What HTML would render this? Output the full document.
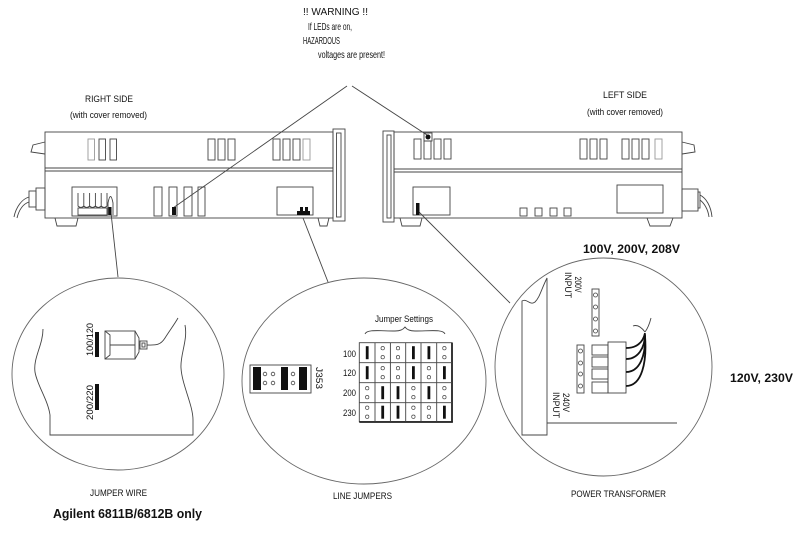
<!DOCTYPE html>
<html><head><meta charset="utf-8"><style>
html,body{margin:0;padding:0;background:#fff;}
svg{display:block;}
text{font-family:"Liberation Sans",Arial,sans-serif;fill:#111;}
</style></head><body>
<svg width="800" height="533" viewBox="0 0 800 533" xmlns="http://www.w3.org/2000/svg">
<rect width="800" height="533" fill="#fff"/>

<!-- WARNING TEXT -->
<g font-size="10.5">
<text x="303" y="15" textLength="65" lengthAdjust="spacingAndGlyphs">!! WARNING !!</text>
<text x="308" y="30" textLength="44" lengthAdjust="spacingAndGlyphs">If LEDs are on,</text>
<text x="303" y="44" textLength="37" lengthAdjust="spacingAndGlyphs">HAZARDOUS</text>
<text x="318" y="58" textLength="67" lengthAdjust="spacingAndGlyphs">voltages are present!</text>
</g>

<!-- side labels -->
<g font-size="9.5">
<text x="85" y="102" textLength="48" lengthAdjust="spacingAndGlyphs">RIGHT SIDE</text>
<text x="70" y="118" textLength="77" lengthAdjust="spacingAndGlyphs">(with cover removed)</text>
<text x="603" y="98" textLength="44" lengthAdjust="spacingAndGlyphs">LEFT SIDE</text>
<text x="587" y="115" textLength="76" lengthAdjust="spacingAndGlyphs">(with cover removed)</text>
</g>

<g fill="none" stroke="#444" stroke-width="0.9">
<!-- warning lines -->
<line x1="347" y1="86" x2="173" y2="208"/>
<line x1="352" y1="86" x2="427" y2="135"/>

<!-- ===== Chassis A (right side) ===== -->
<rect x="45" y="132" width="288" height="86"/>
<line x1="45" y1="168" x2="333" y2="168"/>
<line x1="45" y1="171" x2="333" y2="171"/>
<rect x="333" y="129" width="12" height="92"/>
<rect x="336.5" y="133" width="4.5" height="84"/>
<path d="M45,142 L33,145 L31,152 L45,154"/>
<rect x="36" y="188" width="9" height="22"/>
<rect x="29" y="191" width="7" height="16"/>
<path d="M29,197 C22,199 16,207 14,217"/>
<path d="M29,202 C23,204 19,210 17,218"/>
<path d="M55,218 L57,226 L76,226 L78,218"/>
<path d="M318,218 L320,226 L327,226 L329,218"/>
<!-- top slots -->
<rect x="88" y="139" width="6.5" height="21" stroke="#999"/>
<rect x="99" y="139" width="6.5" height="21"/>
<rect x="110" y="139" width="6.5" height="21"/>
<rect x="208" y="139" width="7" height="21"/>
<rect x="218" y="139" width="7" height="21"/>
<rect x="228" y="139" width="7" height="21"/>
<rect x="273" y="139" width="7" height="21"/>
<rect x="283" y="139" width="7" height="21"/>
<rect x="293" y="139" width="7" height="21"/>
<rect x="303" y="139" width="7" height="21" stroke="#999"/>
<!-- lower -->
<rect x="72" y="187" width="45" height="29"/>
<path d="M78,193 V206 Q80.9,209 83.8,206 V193 M83.8,206 Q86.7,209 89.6,206 V193 M89.6,206 Q92.5,209 95.4,206 V193 M95.4,206 Q98.3,209 101.2,206 V193 M101.2,206 Q104.1,209 107,206 V193"/>
<rect x="78" y="208" width="29" height="7"/>
<path d="M108,215 V203 Q110.5,190 113,203 V215"/>
<rect x="154" y="187" width="8" height="29"/>
<rect x="169" y="187" width="8" height="29"/>
<rect x="184" y="187" width="8" height="29"/>
<rect x="198" y="187" width="7" height="29"/>
<rect x="277" y="187" width="36" height="28"/>

<!-- ===== Chassis B (left side) ===== -->
<rect x="394" y="132" width="288" height="86"/>
<line x1="394" y1="169" x2="682" y2="169"/>
<line x1="394" y1="172" x2="682" y2="172"/>
<rect x="383" y="131" width="11" height="91"/>
<rect x="387" y="135" width="4" height="83"/>
<rect x="424" y="133" width="8" height="8"/>
<rect x="414" y="139" width="7" height="20"/>
<rect x="424" y="141" width="7" height="18"/>
<rect x="434" y="139" width="7" height="20"/>
<rect x="444" y="139" width="7" height="20"/>
<rect x="580" y="139" width="7" height="20"/>
<rect x="590" y="139" width="7" height="20"/>
<rect x="600" y="139" width="7" height="20"/>
<rect x="622" y="139" width="7" height="20"/>
<rect x="632" y="139" width="7" height="20"/>
<rect x="642" y="139" width="7" height="20"/>
<rect x="655" y="139" width="7" height="20" stroke="#999"/>
<rect x="413" y="187" width="37" height="28"/>
<rect x="520" y="208" width="7" height="8"/>
<rect x="535" y="208" width="7" height="8"/>
<rect x="550" y="208" width="7" height="8"/>
<rect x="564" y="208" width="7" height="8"/>
<rect x="617" y="185" width="46" height="28"/>
<path d="M682,142 L694,145 L695,152 L682,154"/>
<rect x="682" y="189" width="16" height="22"/>
<rect x="698" y="192" width="2" height="16"/>
<path d="M700,195 C706,198 711,206 712,217"/>
<path d="M700,200 C704,203 708,209 709,217"/>
<path d="M400,218 L402,226 L420,226 L422,218"/>
<path d="M647,218 L650,226 L670,226 L673,218"/>

<!-- connector lines to circles -->
<line x1="111" y1="213" x2="118" y2="277"/>
<line x1="303" y1="218" x2="328" y2="282"/>
<line x1="419" y1="212" x2="510" y2="303"/>

<!-- ===== circles ===== -->
<ellipse cx="118" cy="374" rx="106" ry="96" stroke="#666"/>
<ellipse cx="364" cy="381" rx="122" ry="103" stroke="#666"/>
<ellipse cx="603.5" cy="367" rx="108.5" ry="109" stroke="#666"/>

<!-- circle 1 contents -->
<path d="M43,329 C43,345 33,358 35,372 C37,385 48,400 50,415 L50,435 H193 L193,420 C193,405 182,385 181,368 C180,355 188,340 185,325"/>
<rect x="105" y="331" width="30" height="28"/>
<path d="M105,331 L110,335 V355 L105,359 M110,345 H135"/>
<path d="M135,331 L139,338 V352 L135,359"/>
<rect x="140" y="341" width="7" height="8"/>
<rect x="142" y="343" width="3" height="4"/>
<line x1="139" y1="345" x2="140" y2="345"/>
<path d="M147,345 C155,345 160,346 165,338 C170,330 174,325 178,318"/>

<!-- circle 2 contents -->
<rect x="250" y="365" width="61" height="28"/>
<g stroke-width="0.8">
<circle cx="265" cy="374" r="1.8"/><circle cx="265" cy="383" r="1.8"/>
<circle cx="273" cy="374" r="1.8"/><circle cx="273" cy="383" r="1.8"/>
<circle cx="293" cy="374" r="1.8"/><circle cx="293" cy="383" r="1.8"/>
</g>
<path d="M365,334 C367,329 380,331 395,331 C400,331 403,330 405,327 C407,330 410,331 415,331 C430,331 443,329 445,334"/>
<!-- table -->
<rect x="359.3" y="342.7" width="92.7" height="79"/>
<line x1="452" y1="342.7" x2="452" y2="422.5" stroke="#222" stroke-width="1.8"/>
<line x1="359.3" y1="422" x2="452.8" y2="422" stroke="#222" stroke-width="1.8"/>
<path d="M375,342.7 V421.7 M390.4,342.7 V421.7 M405.7,342.7 V421.7 M421,342.7 V421.7 M436.7,342.7 V421.7 M359.3,362.7 H452 M359.3,382.7 H452 M359.3,402.7 H452"/>
<g stroke-width="0.7">
<!-- row 0 -->
<circle cx="382.7" cy="348.2" r="1.7"/><circle cx="382.7" cy="357.2" r="1.7"/>
<circle cx="398" cy="348.2" r="1.7"/><circle cx="398" cy="357.2" r="1.7"/>
<circle cx="444.4" cy="348.2" r="1.7"/><circle cx="444.4" cy="357.2" r="1.7"/>
<!-- row 1 -->
<circle cx="382.7" cy="368.2" r="1.7"/><circle cx="382.7" cy="377.2" r="1.7"/>
<circle cx="398" cy="368.2" r="1.7"/><circle cx="398" cy="377.2" r="1.7"/>
<circle cx="428.9" cy="368.2" r="1.7"/><circle cx="428.9" cy="377.2" r="1.7"/>
<!-- row 2 -->
<circle cx="367.2" cy="388.2" r="1.7"/><circle cx="367.2" cy="397.2" r="1.7"/>
<circle cx="413.4" cy="388.2" r="1.7"/><circle cx="413.4" cy="397.2" r="1.7"/>
<circle cx="444.4" cy="388.2" r="1.7"/><circle cx="444.4" cy="397.2" r="1.7"/>
<!-- row 3 -->
<circle cx="367.2" cy="407.7" r="1.7"/><circle cx="367.2" cy="416.7" r="1.7"/>
<circle cx="413.4" cy="407.7" r="1.7"/><circle cx="413.4" cy="416.7" r="1.7"/>
<circle cx="428.9" cy="407.7" r="1.7"/><circle cx="428.9" cy="416.7" r="1.7"/>
</g>

<!-- circle 3 contents -->
<path d="M522,435 V301 C527,298 530,306 535,302 C540,297 541,290 547,278 V435 Z"/>
<line x1="547" y1="423" x2="677" y2="423"/>
<rect x="592" y="289" width="7" height="47"/>
<rect x="577" y="345" width="7" height="48"/>
<g stroke-width="0.8">
<circle cx="595.5" cy="295" r="2"/><circle cx="595.5" cy="307" r="2"/><circle cx="595.5" cy="319" r="2"/><circle cx="595.5" cy="331" r="2"/>
<circle cx="580.5" cy="351" r="2"/><circle cx="580.5" cy="363" r="2"/><circle cx="580.5" cy="374" r="2"/><circle cx="580.5" cy="386" r="2"/>
</g>
<rect x="592" y="345" width="16" height="10"/>
<rect x="592" y="357" width="16" height="10"/>
<rect x="592" y="369" width="16" height="10"/>
<rect x="592" y="382" width="16" height="11"/>
<rect x="608" y="342" width="18" height="51"/>
<path d="M645,332 C648,328 650,322 651,318"/>
<path d="M645,332 C642,328 638,324 633,326"/>
</g>

<!-- thick wires -->
<g fill="none" stroke="#111" stroke-width="1.8">
<path d="M626,348 C636,348 643,343 645,333"/>
<path d="M626,359 C638,359 645,348 645,334"/>
<path d="M626,372 C640,372 646,355 645,335"/>
<path d="M626,386 C642,386 647,362 645,336"/>
</g>

<!-- black fills -->
<g fill="#111">
<circle cx="428" cy="137" r="2.5"/>
<rect x="172" y="207" width="4" height="8"/>
<rect x="108.5" y="207" width="3" height="8"/>
<rect x="297" y="211" width="13" height="4"/>
<rect x="300" y="207" width="3" height="4"/>
<rect x="305" y="207" width="3" height="4"/>
<rect x="416" y="203" width="3.5" height="12"/>
<rect x="95" y="332" width="4" height="25"/>
<rect x="95" y="384" width="4" height="26"/>
<rect x="253" y="367" width="8" height="23"/>
<rect x="281" y="367" width="7" height="23"/>
<rect x="299" y="367" width="8" height="23"/>
<!-- table bars -->
<rect x="365.8" y="346.2" width="2.8" height="13"/>
<rect x="412" y="346.2" width="2.8" height="13"/>
<rect x="427.5" y="346.2" width="2.8" height="13"/>
<rect x="365.8" y="366.2" width="2.8" height="13"/>
<rect x="412" y="366.2" width="2.8" height="13"/>
<rect x="443" y="366.2" width="2.8" height="13"/>
<rect x="381.3" y="386.2" width="2.8" height="13"/>
<rect x="396.6" y="386.2" width="2.8" height="13"/>
<rect x="427.5" y="386.2" width="2.8" height="13"/>
<rect x="381.3" y="405.7" width="2.8" height="13"/>
<rect x="396.6" y="405.7" width="2.8" height="13"/>
<rect x="443" y="405.7" width="2.8" height="13"/>
</g>

<!-- circle labels -->
<g font-size="9">
<text transform="translate(93,339.5) rotate(-90)" text-anchor="middle" textLength="33" lengthAdjust="spacingAndGlyphs">100/120</text>
<text transform="translate(93,402.5) rotate(-90)" text-anchor="middle" textLength="35" lengthAdjust="spacingAndGlyphs">200/220</text>
<text transform="translate(316,378) rotate(90)" text-anchor="middle" textLength="22" lengthAdjust="spacingAndGlyphs">J353</text>
<text x="375" y="322" textLength="58" lengthAdjust="spacingAndGlyphs">Jumper Settings</text>
<text x="356" y="357" text-anchor="end" textLength="13" lengthAdjust="spacingAndGlyphs">100</text>
<text x="356" y="376" text-anchor="end" textLength="13" lengthAdjust="spacingAndGlyphs">120</text>
<text x="356" y="396" text-anchor="end" textLength="13" lengthAdjust="spacingAndGlyphs">200</text>
<text x="356" y="416" text-anchor="end" textLength="13" lengthAdjust="spacingAndGlyphs">230</text>
</g>
<g font-size="9.5">
<text transform="translate(575,284.5) rotate(90)" text-anchor="middle" textLength="16" lengthAdjust="spacingAndGlyphs">200V</text>
<text transform="translate(565,285) rotate(90)" text-anchor="middle" textLength="26" lengthAdjust="spacingAndGlyphs">INPUT</text>
<text transform="translate(563,402.5) rotate(90)" text-anchor="middle" textLength="19" lengthAdjust="spacingAndGlyphs">240V</text>
<text transform="translate(553,405) rotate(90)" text-anchor="middle" textLength="26" lengthAdjust="spacingAndGlyphs">INPUT</text>
</g>

<!-- bold labels -->
<g font-size="12" font-weight="bold">
<text x="583" y="253" textLength="97" lengthAdjust="spacingAndGlyphs">100V, 200V, 208V</text>
<text x="730" y="382" textLength="63" lengthAdjust="spacingAndGlyphs">120V, 230V</text>
<text x="53" y="518" font-size="13" textLength="149" lengthAdjust="spacingAndGlyphs">Agilent 6811B/6812B only</text>
</g>

<!-- bottom captions -->
<g font-size="9.5">
<text x="90" y="496" textLength="57" lengthAdjust="spacingAndGlyphs">JUMPER WIRE</text>
<text x="333" y="499" textLength="59" lengthAdjust="spacingAndGlyphs">LINE JUMPERS</text>
<text x="571" y="497" textLength="95" lengthAdjust="spacingAndGlyphs">POWER TRANSFORMER</text>
</g>
</svg>
</body></html>
